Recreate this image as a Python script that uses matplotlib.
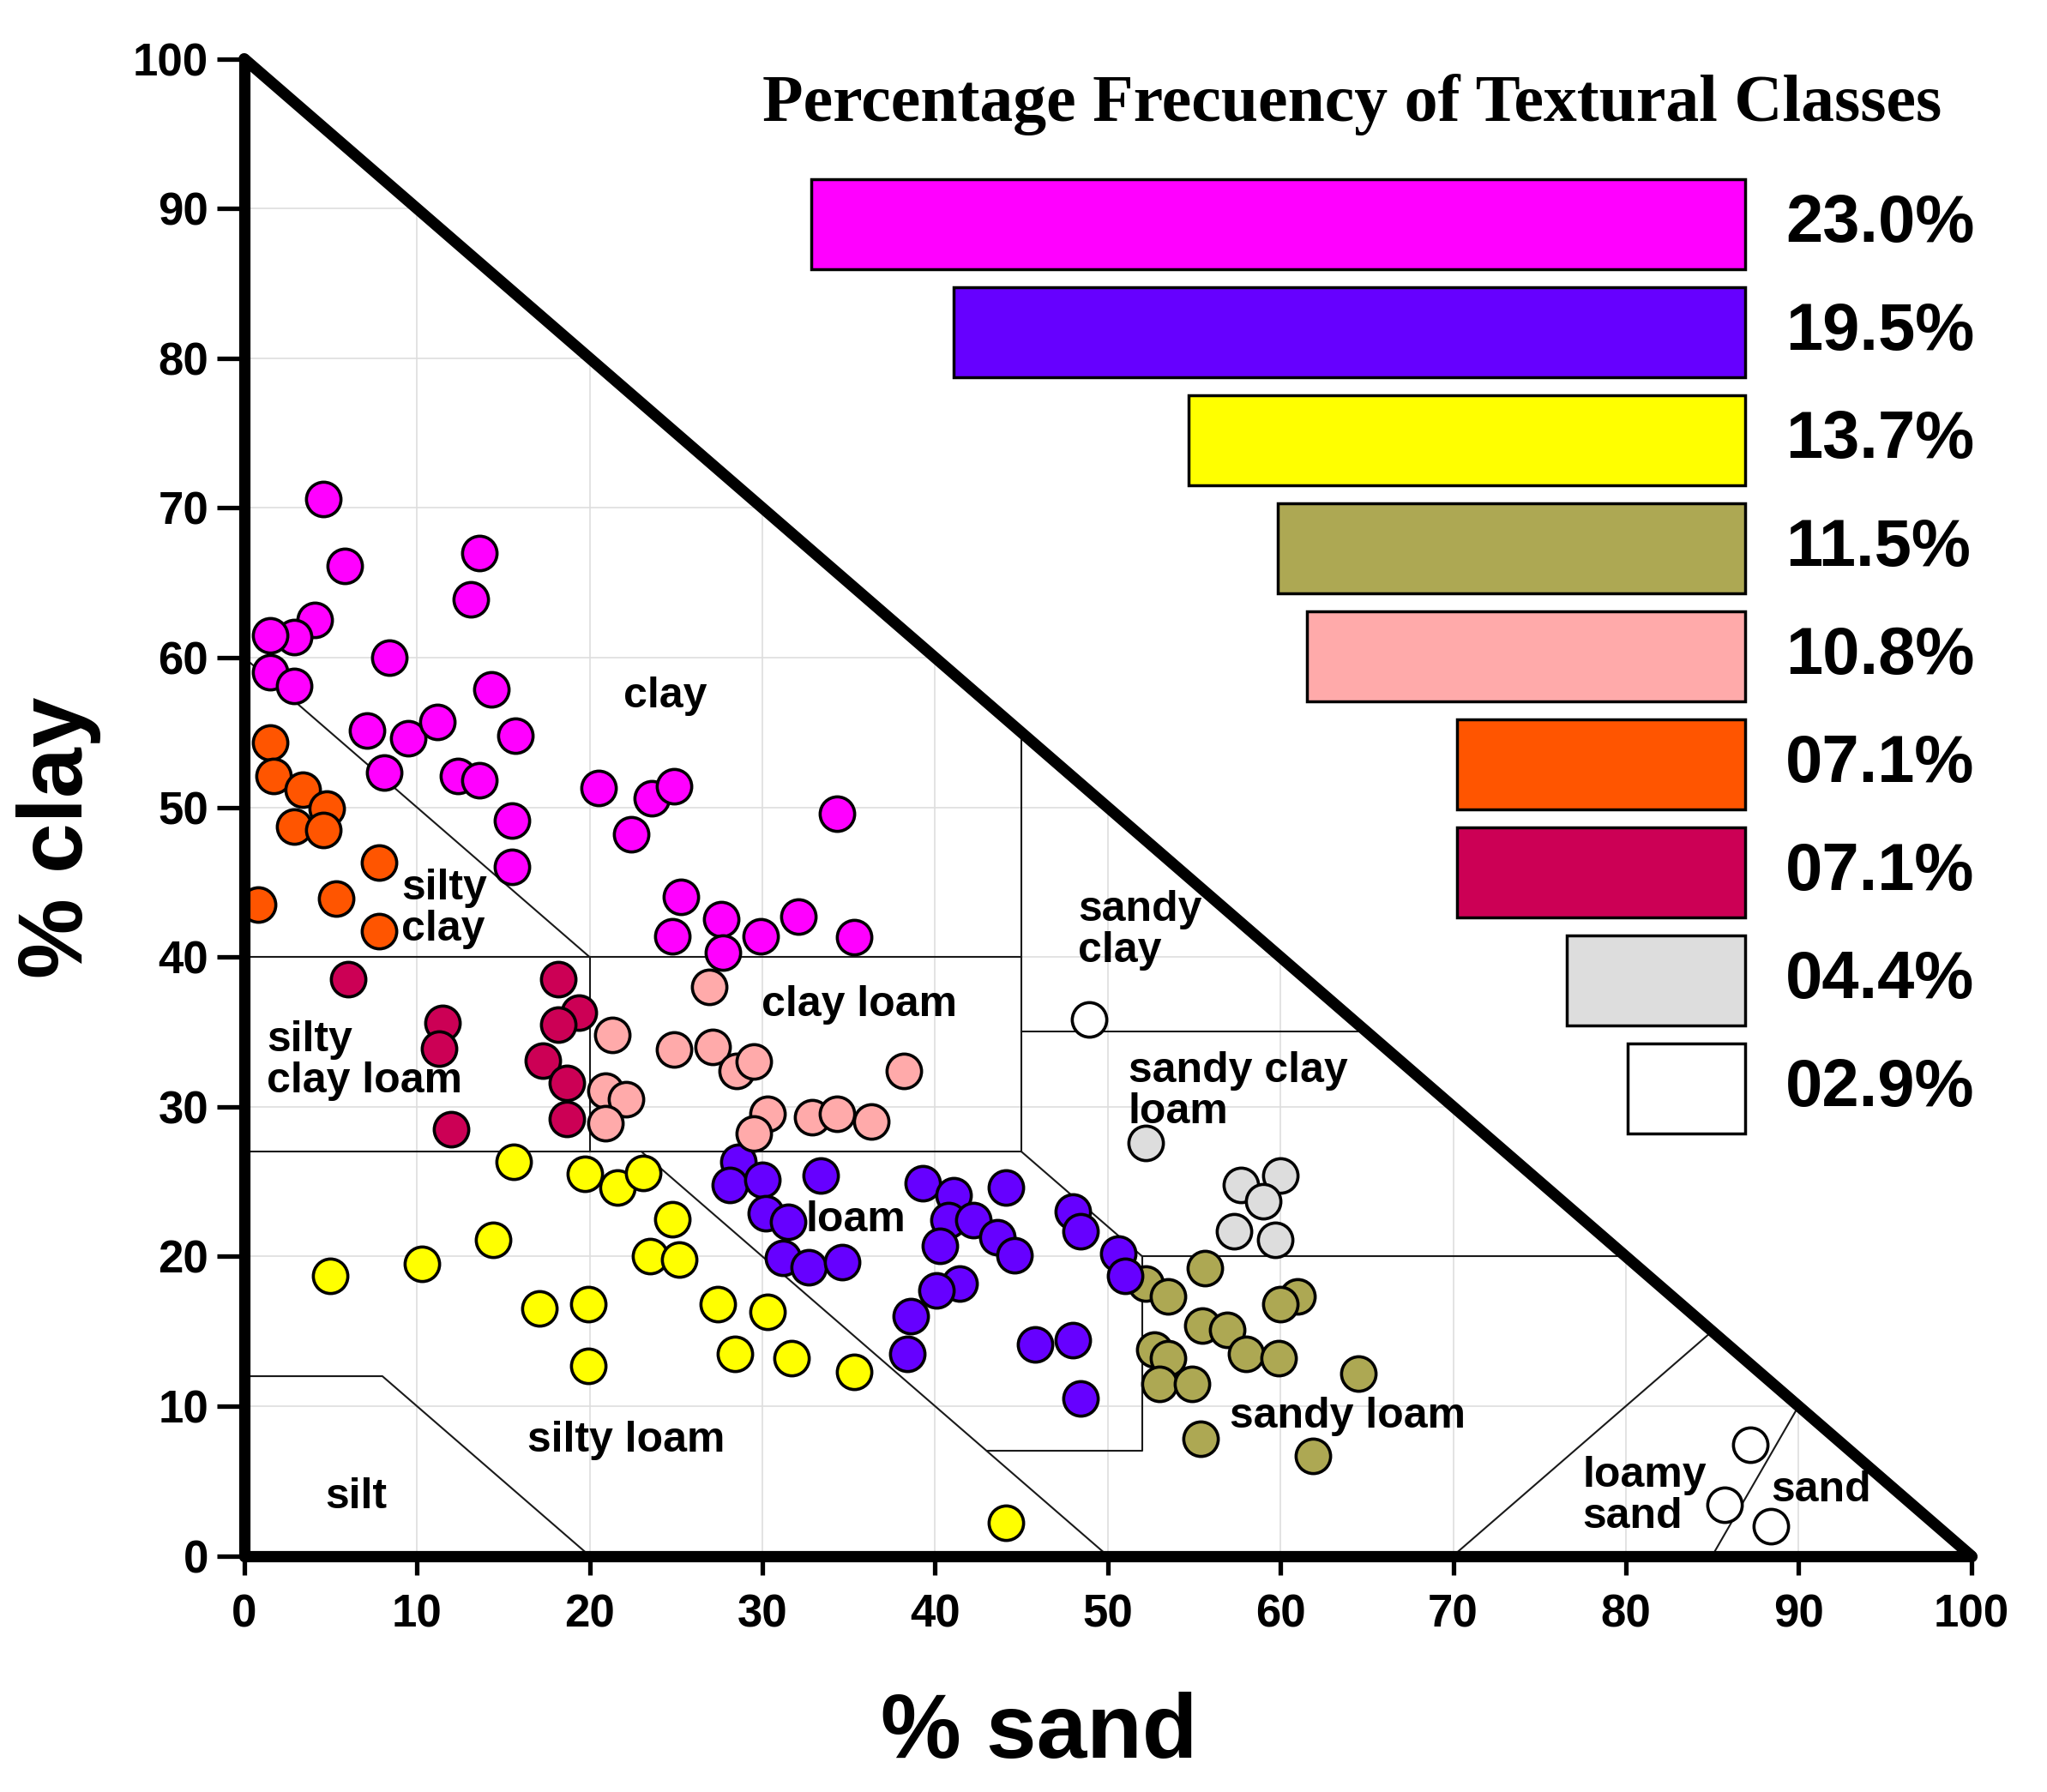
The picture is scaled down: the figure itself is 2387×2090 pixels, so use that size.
import matplotlib
matplotlib.use('Agg')
import matplotlib.pyplot as plt

plt.rcParams['font.family'] = ['Liberation Sans', 'DejaVu Sans']
plt.rcParams['font.weight'] = 'bold'

# ---------------- data ----------------
clay_sand = [4.6, 5.8, 13.6, 13.1, 4.1, 2.9, 1.5, 8.4, 1.5, 2.9, 14.3, 7.1, 9.5, 11.2, 15.7, 8.1,
             12.4, 13.6, 20.5, 23.6, 24.9, 22.4, 15.5, 15.5, 25.3, 27.6, 24.8, 29.9, 27.7, 32.1, 34.3, 35.3]
clay_clay = [70.6, 66.1, 67.0, 63.9, 62.5, 61.4, 61.5, 60.0, 59.0, 58.1, 57.9, 55.1, 54.6, 55.7, 54.8, 52.3,
             52.1, 51.8, 51.3, 50.6, 51.4, 48.2, 49.1, 46.0, 44.0, 42.5, 41.4, 41.4, 40.3, 42.7, 49.6, 41.3]

loam_sand = [28.6, 28.1, 30.0, 33.4, 30.2, 31.5, 31.2, 32.7, 34.6, 39.3, 41.1, 44.1, 40.8, 42.2,
             43.6, 44.6, 40.3, 41.4, 40.1, 38.6, 38.4, 45.8, 48.0, 48.4, 48.0, 48.4, 50.6, 51.0]
loam_clay = [26.3, 24.8, 25.1, 25.4, 22.9, 22.3, 19.9, 19.3, 19.6, 24.9, 24.1, 24.6, 22.4, 22.4,
             21.3, 20.1, 20.7, 18.2, 17.7, 16.0, 13.5, 14.1, 14.4, 10.5, 23.0, 21.7, 20.2, 18.7]

siltloam_sand = [15.6, 19.7, 21.6, 23.1, 24.8, 23.5, 25.2, 14.4, 10.3, 5.0, 17.1, 19.9, 27.4, 30.3,
                 28.4, 31.7, 35.3, 19.9, 44.1]
siltloam_clay = [26.3, 25.5, 24.6, 25.6, 22.5, 20.0, 19.8, 21.1, 19.5, 18.7, 16.5, 16.8, 16.8, 16.3,
                 13.5, 13.2, 12.3, 12.7, 2.2]

sandyloam_sand = [55.6, 52.2, 53.5, 61.0, 60.0, 55.5, 56.9, 52.7, 53.5, 58.0, 59.9, 53.0, 54.9, 64.5, 55.4, 61.9]
sandyloam_clay = [19.2, 18.2, 17.3, 17.3, 16.8, 15.4, 15.1, 13.8, 13.2, 13.5, 13.2, 11.5, 11.5, 12.2, 7.8, 6.7]

clayloam_sand = [26.9, 21.3, 24.9, 27.1, 28.5, 29.5, 38.2, 20.9, 22.1, 20.9, 30.3, 29.5, 32.9, 34.3, 36.3]
clayloam_clay = [38.0, 34.8, 33.8, 34.0, 32.4, 33.0, 32.4, 31.1, 30.5, 28.9, 29.5, 28.2, 29.3, 29.5, 29.0]

siltyclay_sand = [1.5, 1.7, 3.4, 4.8, 2.9, 4.6, 7.8, 0.8, 5.3, 7.8]
siltyclay_clay = [54.3, 52.1, 51.2, 49.9, 48.7, 48.5, 46.3, 43.5, 43.9, 41.7]

siltyclayloam_sand = [6.0, 18.2, 11.5, 11.3, 19.4, 18.2, 17.3, 18.7, 18.7, 12.0]
siltyclayloam_clay = [38.5, 38.5, 35.6, 33.9, 36.3, 35.5, 33.1, 31.6, 29.2, 28.5]

sandyclayloam_sand = [52.2, 57.7, 60.0, 59.0, 57.3, 59.7]
sandyclayloam_clay = [27.6, 24.8, 25.4, 23.7, 21.7, 21.1]

other_sand = [48.9, 87.2, 85.7, 88.4]
other_clay = [35.8, 7.4, 3.4, 2.0]

bar_values = [23.0, 19.5, 13.7, 11.5, 10.8, 7.1, 7.1, 4.4, 2.9]
class_colors = ['#FF00FF', '#6600FF', '#FFFF00', '#ADA853', '#FFAAAA',
                '#FF5500', '#CC0055', '#DDDDDD', '#FFFFFF']

tick_values = [0, 10, 20, 30, 40, 50, 60, 70, 80, 90, 100]

# USDA class boundaries (sand, clay)
boundaries = [
    [(0, 60), (20, 40)],
    [(0, 40), (45, 40)],
    [(20, 40), (20, 27)],
    [(45, 55), (45, 27)],
    [(45, 35), (65, 35)],
    [(0, 27), (45, 27)],
    [(45, 27), (52, 20)],
    [(52, 20), (80, 20)],
    [(52, 20), (52, 7), (43, 7)],
    [(23, 27), (50, 0)],
    [(0, 12), (8, 12), (20, 0)],
    [(70, 0), (85, 15)],
    [(85, 0), (90, 10)],
]

region_labels = [
    ('clay', 24.4, 57.4, 'center'),
    ('silty\nclay', 9.1, 43.2, 'left'),
    ('silty\nclay loam', 1.3, 33.1, 'left'),
    ('clay loam', 35.6, 36.8, 'center'),
    ('sandy\nclay', 48.3, 41.8, 'left'),
    ('sandy clay\nloam', 51.2, 31.0, 'left'),
    ('loam', 35.4, 22.4, 'center'),
    ('sandy loam', 63.9, 9.3, 'center'),
    ('silty loam', 22.1, 7.7, 'center'),
    ('silt', 6.5, 3.9, 'center'),
    ('loamy\nsand', 77.5, 4.0, 'left'),
    ('sand', 91.3, 4.4, 'center'),
]

# ---------------- figure ----------------
fig = plt.figure(figsize=(23.87, 20.90), dpi=100)
ax = fig.add_axes([0.1193, 0.1318, 0.8437, 0.8354])
ax.set_xlim(0, 100)
ax.set_ylim(0, 100)

# grid clipped to triangle
for v in tick_values[1:-1]:
    ax.plot([v, v], [0, 100 - v], color='#DEDEDE', lw=1.2, zorder=1)
    ax.plot([0, 100 - v], [v, v], color='#DEDEDE', lw=1.2, zorder=1)

for seg in boundaries:
    xs = [p[0] for p in seg]
    ys = [p[1] for p in seg]
    ax.plot(xs, ys, color='#1a1a1a', lw=1.5, zorder=2)

ax.plot([0, 100], [100, 0], color='black', lw=9.5, zorder=6, clip_on=False,
        solid_capstyle='round')

series = [
    (sandyclayloam_sand, sandyclayloam_clay, class_colors[7]),
    (other_sand, other_clay, class_colors[8]),
    (sandyloam_sand, sandyloam_clay, class_colors[3]),
    (siltloam_sand, siltloam_clay, class_colors[2]),
    (loam_sand, loam_clay, class_colors[1]),
    (clayloam_sand, clayloam_clay, class_colors[4]),
    (siltyclayloam_sand, siltyclayloam_clay, class_colors[6]),
    (siltyclay_sand, siltyclay_clay, class_colors[5]),
    (clay_sand, clay_clay, class_colors[0]),
]
for xs, ys, c in series:
    ax.scatter(xs, ys, s=840, c=c, edgecolors='black', linewidths=2.6,
               zorder=4, clip_on=False)

for txt, x, y, ha in region_labels:
    ax.text(x, y, txt, ha=ha, va='center', fontsize=36, fontweight='bold',
            linespacing=1.05, zorder=5)

for s in ['top', 'right']:
    ax.spines[s].set_visible(False)
for s in ['left', 'bottom']:
    ax.spines[s].set_linewidth(9.5)
    ax.spines[s].set_capstyle('round')
    ax.spines[s].set_zorder(6)
ax.set_xticks(tick_values)
ax.set_yticks(tick_values)
ax.tick_params(axis='both', direction='out', width=3.8, labelsize=38)
ax.tick_params(axis='y', length=23, pad=7)
ax.tick_params(axis='x', length=16, pad=16)
for lab in ax.get_xticklabels() + ax.get_yticklabels():
    lab.set_fontweight('bold')

fig.text(0.5078, 0.0325, '% sand', ha='center', va='center',
         fontsize=76, fontweight='bold')
fig.text(0.0285, 0.5325, '% clay', ha='center', va='center', rotation=90,
         fontsize=76, fontweight='bold')

# ---------------- inset bar chart ----------------
ax2 = fig.add_axes([0.3963, 0.3677, 0.4562, 0.5325])
ypos = list(range(len(bar_values)))
bars = ax2.barh(ypos, bar_values, height=0.8333, color=class_colors,
                edgecolor='black', linewidth=2.5)
for b in bars:
    b.set_clip_on(False)
ax2.set_xlim(23.0, 0)
ax2.set_ylim(8.4167, -0.4167)
ax2.axis('off')
for yv, v in zip(ypos, bar_values):
    ax2.text(-1.0, yv, f'{v:04.1f}%', ha='left', va='center',
             fontsize=56, fontweight='bold')

fig.text(0.6603, 0.9416, 'Percentage Frecuency of Textural Classes',
         ha='center', va='center', fontsize=56, fontweight='bold',
         family=['Liberation Serif', 'DejaVu Serif'])

fig.savefig('out.png', dpi=100, facecolor='white')
